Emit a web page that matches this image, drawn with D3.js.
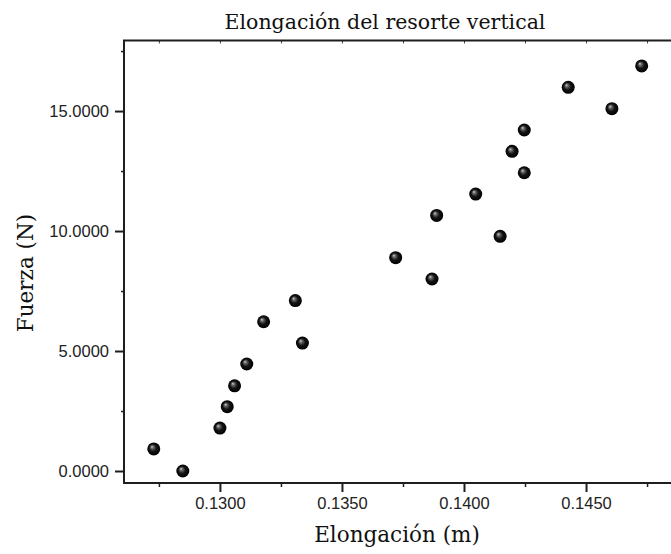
<!DOCTYPE html>
<html>
<head>
<meta charset="utf-8">
<script src="https://cdn.jsdelivr.net/npm/d3@7/dist/d3.min.js"></script>
<style>
  html, body { margin: 0; padding: 0; background: #fff; }
  svg { display: block; }
</style>
</head>
<body>
<svg id="chart" width="671" height="554"></svg>
<script>
// ---- data ----
const elongacion = [0.12729, 0.12848, 0.13000, 0.13030, 0.13060, 0.13110, 0.13179, 0.13309, 0.13338, 0.13720,
                    0.13869, 0.13888, 0.14048, 0.14148, 0.14197, 0.14247, 0.14247, 0.14427, 0.14606, 0.14728];
const fuerza     = [0.92, 0.00, 1.79, 2.68, 3.55, 4.46, 6.22, 7.10, 5.33, 8.89,
                    8.00, 10.65, 11.54, 9.78, 13.32, 14.21, 12.43, 15.99, 15.10, 16.88];
const xMajorTicks = [0.130, 0.135, 0.140, 0.145];
const xMinorTicks = [0.1275, 0.1325, 0.1375, 0.1425, 0.1475];
const xTopTicks   = [0.1275, 0.1300, 0.1325, 0.1350, 0.1375, 0.1400, 0.1425, 0.1450, 0.1475];
const yMajorTicks = [0, 5, 10, 15];
const yMinorTicks = [2.5, 7.5, 12.5, 17.5];
const xDomain = [0.12607, 0.14885];
const yDomain = [-0.5, 17.94];
const chartTitle = "Elongación del resorte vertical";
const xTitle = "Elongación (m)";
const yTitle = "Fuerza (N)";

// ---- layout ----
const svg = d3.select("#chart");
const pLeft = 124, pRight = 680, pTop = 40.5, pBottom = 483;
const x = d3.scaleLinear().domain(xDomain).range([pLeft, pRight]);
const y = d3.scaleLinear().domain(yDomain).range([pBottom, pTop]);
const axisColor = "#1e1e1e";

// gradient for spheres
const defs = svg.append("defs");
const grad = defs.append("radialGradient").attr("id", "sphere")
  .attr("cx", "50%").attr("cy", "50%").attr("r", "50%")
  .attr("fx", "35%").attr("fy", "32%");
grad.append("stop").attr("offset", "0%").attr("stop-color", "#d0d0d0");
grad.append("stop").attr("offset", "22%").attr("stop-color", "#6a6a6a");
grad.append("stop").attr("offset", "55%").attr("stop-color", "#141414");
grad.append("stop").attr("offset", "100%").attr("stop-color", "#000");

// bottom axis
const fmt = d3.format(".4f");
const xAxis = d3.axisBottom(x).tickValues(xMajorTicks).tickFormat(fmt).tickSizeInner(9).tickSizeOuter(0).tickPadding(5);
const gx = svg.append("g").attr("transform", `translate(0,${pBottom})`).call(xAxis);
gx.select(".domain").remove();
gx.selectAll(".tick line").attr("stroke", axisColor).attr("stroke-width", 2);
gx.selectAll(".tick text").attr("font-family", "'Liberation Sans', Arial, sans-serif")
  .attr("font-size", 16.5).attr("fill", "#222");
const gxm = svg.append("g").attr("transform", `translate(0,${pBottom})`)
  .call(d3.axisBottom(x).tickValues(xMinorTicks).tickFormat("").tickSizeInner(4).tickSizeOuter(0));
gxm.select(".domain").remove();
gxm.selectAll(".tick line").attr("stroke", axisColor).attr("stroke-width", 1.5);

// left axis
const yAxis = d3.axisLeft(y).tickValues(yMajorTicks).tickFormat(fmt).tickSizeInner(9).tickSizeOuter(0).tickPadding(6);
const gy = svg.append("g").attr("transform", `translate(${pLeft},0)`).call(yAxis);
gy.select(".domain").remove();
gy.selectAll(".tick line").attr("stroke", axisColor).attr("stroke-width", 2);
gy.selectAll(".tick text").attr("font-family", "'Liberation Sans', Arial, sans-serif")
  .attr("font-size", 16.5).attr("fill", "#222");
const gym = svg.append("g").attr("transform", `translate(${pLeft},0)`)
  .call(d3.axisLeft(y).tickValues(yMinorTicks).tickFormat("").tickSizeInner(3).tickSizeOuter(0));
gym.select(".domain").remove();
gym.selectAll(".tick line").attr("stroke", axisColor).attr("stroke-width", 1.5);

// top axis ticks (small, inward)
const gt = svg.append("g").attr("transform", `translate(0,${pTop})`)
  .call(d3.axisBottom(x).tickValues(xTopTicks).tickFormat("").tickSizeInner(3).tickSizeOuter(0));
gt.select(".domain").remove();
gt.selectAll(".tick line").attr("stroke", "#444").attr("stroke-width", 1);

// frame lines
svg.append("path")
  .attr("d", `M${pRight},${pTop}H${pLeft}V${pBottom}H${pRight}`)
  .attr("fill", "none").attr("stroke", axisColor).attr("stroke-width", 2);

// points
const pts = elongacion.map((v, i) => ({ x: v, y: fuerza[i] }));
svg.append("g").selectAll("circle").data(pts).join("circle")
  .attr("cx", d => x(d.x)).attr("cy", d => y(d.y)).attr("r", 6.5)
  .attr("fill", "url(#sphere)");

// titles
const serif = "'DejaVu Serif', serif";
svg.append("text").attr("x", 385).attr("y", 29).attr("text-anchor", "middle")
  .attr("font-family", serif).attr("font-size", 20.5).attr("fill", "#111").text(chartTitle);
svg.append("text").attr("x", 397).attr("y", 542).attr("text-anchor", "middle")
  .attr("font-family", serif).attr("font-size", 21.5).attr("fill", "#111").text(xTitle);
svg.append("text").attr("transform", `translate(33,273) rotate(-90)`).attr("text-anchor", "middle")
  .attr("font-family", serif).attr("font-size", 21.5).attr("fill", "#111").text(yTitle);
</script>
</body>
</html>
